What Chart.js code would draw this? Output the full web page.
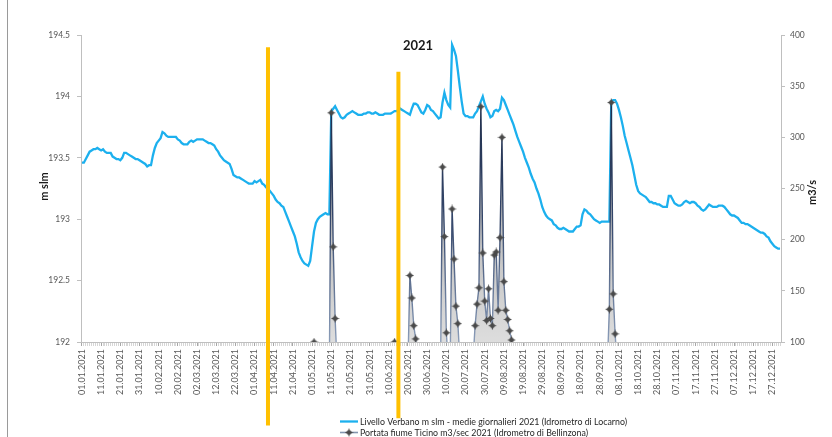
<!DOCTYPE html>
<html>
<head>
<meta charset="utf-8">
<script src="https://cdn.jsdelivr.net/npm/chart.js@4.4.0/dist/chart.umd.min.js"></script>
<style>
  html, body { margin: 0; padding: 0; background: #ffffff; }
  #wrap { width: 832px; height: 437px; position: relative; }
  canvas { display: block; }
</style>
</head>
<body>
<div id="wrap"><canvas id="grafico" width="832" height="437"></canvas></div>
<script>
// ---- Calendario 2021 (categorie giornaliere) ----
const giorniMese = [31, 28, 31, 30, 31, 30, 31, 31, 30, 31, 30, 31];
const pad2 = n => (n < 10 ? '0' : '') + n;
const dateGiorni = [];
giorniMese.forEach((n, m) => {
  for (let g = 1; g <= n; g++) dateGiorni.push(pad2(g) + '.' + pad2(m + 1) + '.2021');
});

// ---- Livello Verbano, medie giornaliere (m slm) ----
const livelloGen = [193.46,193.46,193.49,193.52,193.55,193.56,193.57,193.57,193.58,193.57,
  193.56,193.57,193.55,193.54,193.54,193.54,193.51,193.50,193.49,193.49,
  193.48,193.50,193.54,193.54,193.53,193.52,193.51,193.50,193.49,193.49,193.48];
const livelloFeb = [193.47,193.46,193.45,193.43,193.44,193.44,193.52,193.58,193.62,193.64,
  193.66,193.71,193.70,193.68,193.67,193.67,193.67,193.67,193.67,193.65,
  193.64,193.62,193.61,193.61,193.61,193.63,193.64,193.63];
const livelloMar = [193.64,193.65,193.65,193.65,193.65,193.64,193.63,193.62,193.62,193.61,
  193.60,193.57,193.55,193.52,193.50,193.48,193.47,193.46,193.45,193.41,
  193.36,193.35,193.34,193.34,193.33,193.32,193.31,193.30,193.29,193.29,193.29];
const livelloApr = [193.31,193.30,193.31,193.32,193.29,193.28,193.26,193.25,193.23,193.21,
  193.19,193.16,193.14,193.13,193.11,193.10,193.06,193.02,192.98,192.94,
  192.90,192.86,192.80,192.73,192.69,192.66,192.64,192.63,192.62,192.66];
const livelloMag = [192.78,192.90,192.97,193.00,193.02,193.03,193.04,193.05,193.04,193.04,
  193.88,193.90,193.92,193.89,193.86,193.83,193.82,193.83,193.85,193.86,
  193.87,193.88,193.87,193.86,193.85,193.85,193.85,193.86,193.86,193.87,193.87];
const livelloGiu = [193.86,193.86,193.87,193.86,193.85,193.85,193.85,193.86,193.86,193.86,
  193.86,193.87,193.88,193.88,193.89,193.90,193.89,193.88,193.87,193.86,
  193.85,193.90,193.94,193.94,193.93,193.90,193.87,193.86,193.89,193.93];
const livelloLug = [193.92,193.89,193.88,193.86,193.84,193.82,193.83,193.95,194.03,193.97,
  193.93,193.91,194.42,194.38,194.33,194.21,194.08,193.96,193.86,193.84,
  193.84,193.83,193.83,193.83,193.86,193.88,193.92,193.96,194.00,193.94,193.90];
const livelloAgo = [193.87,193.83,193.84,193.88,193.89,193.88,193.90,193.99,193.97,193.93,
  193.89,193.85,193.81,193.77,193.72,193.67,193.63,193.59,193.55,193.50,
  193.46,193.42,193.37,193.33,193.30,193.25,193.21,193.16,193.10,193.06,193.03];
const livelloSet = [193.01,193.00,192.99,192.96,192.95,192.93,192.92,192.92,192.93,192.92,
  192.91,192.90,192.90,192.90,192.92,192.94,192.94,192.95,193.04,193.08,
  193.07,193.05,193.04,193.02,193.00,192.99,192.98,192.97,192.98,192.98];
const livelloOtt = [192.98,192.98,192.98,193.96,193.97,193.97,193.94,193.89,193.83,193.76,
  193.68,193.62,193.56,193.50,193.44,193.36,193.28,193.23,193.21,193.20,
  193.19,193.18,193.16,193.14,193.14,193.13,193.13,193.12,193.12,193.11,193.10];
const livelloNov = [193.10,193.10,193.19,193.19,193.16,193.13,193.12,193.11,193.11,193.12,
  193.14,193.15,193.14,193.13,193.14,193.14,193.13,193.11,193.10,193.08,
  193.07,193.08,193.10,193.12,193.11,193.10,193.10,193.10,193.11,193.11];
const livelloDic = [193.11,193.10,193.08,193.06,193.04,193.03,193.03,193.02,193.01,192.99,
  192.97,192.97,192.96,192.96,192.95,192.94,192.93,192.92,192.91,192.90,
  192.89,192.89,192.88,192.86,192.85,192.82,192.80,192.78,192.77,192.76,192.76];
const livelloVerbano = [].concat(livelloGen, livelloFeb, livelloMar, livelloApr, livelloMag, livelloGiu,
  livelloLug, livelloAgo, livelloSet, livelloOtt, livelloNov, livelloDic);

// ---- Portata fiume Ticino a Bellinzona (m3/s), giorni con dato ----
const portataDate = ['02.05.2021',
  '10.05.2021','11.05.2021','12.05.2021','13.05.2021','14.05.2021',
  '13.06.2021',
  '20.06.2021','21.06.2021','22.06.2021','23.06.2021','24.06.2021','25.06.2021',
  '07.07.2021','08.07.2021','09.07.2021','10.07.2021','11.07.2021',
  '12.07.2021','13.07.2021','14.07.2021','15.07.2021','16.07.2021','17.07.2021',
  '24.07.2021','25.07.2021','26.07.2021','27.07.2021','28.07.2021','29.07.2021','30.07.2021','31.07.2021',
  '01.08.2021','02.08.2021','03.08.2021','04.08.2021','05.08.2021','06.08.2021','07.08.2021',
  '08.08.2021','09.08.2021','10.08.2021','11.08.2021','12.08.2021','13.08.2021',
  '02.10.2021','03.10.2021','04.10.2021','05.10.2021','06.10.2021','07.10.2021'];
const portataValori = [100,
  75, 324, 193, 123, 80,
  100,
  80, 165, 143, 116, 103, 85,
  80, 271, 203, 109, 80,
  80, 230, 181, 135, 118, 85,
  85, 116, 137, 153, 330, 187, 140, 121,
  152, 123, 116, 185, 188, 131, 202,
  300, 159, 131, 122, 111, 102,
  80, 132, 334, 147, 108, 80];
const portataTicino = dateGiorni.map(() => null);
portataDate.forEach((d, i) => { portataTicino[dateGiorni.indexOf(d)] = portataValori[i]; });

// ---- Testi ----
const titolo = '2021';
const titoloAsseSx = 'm slm';
const titoloAsseDx = 'm3/s';
const nomeLivello = 'Livello Verbano m slm - medie giornalieri 2021 (Idrometro di Locarno)';
const nomePortata = 'Portata fiume Ticino m3/sec 2021 (Idrometro di Bellinzona)';

// Linee verticali di riferimento (giorno, estremi in m slm)
const lineeRiferimento = [
  { giorno: '08.04.2021', da: 194.40, a: 191.32 },
  { giorno: '15.06.2021', da: 194.20, a: 191.38 }
];

const FONT = 'Lato, "Liberation Sans", Arial, sans-serif';
const BLU = '#1cb0ee';
const ARANCIO = '#ffc000';

// Marcatore a stella per la portata
function creaMarcatore() {
  const c = document.createElement('canvas');
  c.width = 9; c.height = 9;
  const g = c.getContext('2d');
  g.fillStyle = '#4a4a4a';
  g.beginPath();
  for (let i = 0; i < 8; i++) {
    const a = i * Math.PI / 4 - Math.PI / 2;
    const r = i % 2 === 0 ? 4.4 : 1.7;
    g.lineTo(4.5 + r * Math.cos(a), 4.5 + r * Math.sin(a));
  }
  g.closePath();
  g.fill();
  g.beginPath();
  g.arc(4.5, 4.5, 2.3, 0, Math.PI * 2);
  g.fill();
  return c;
}
const marcatore = creaMarcatore();

function gradienteVerticale(chart, stops) {
  const area = chart.chartArea;
  if (!area) return stops[0][1];
  const gr = chart.ctx.createLinearGradient(0, area.top, 0, area.bottom);
  stops.forEach(s => gr.addColorStop(s[0], s[1]));
  return gr;
}

const decorazioni = {
  id: 'decorazioni',
  afterDatasetsDraw(chart) {
    const { ctx, scales } = chart;
    ctx.save();
    ctx.strokeStyle = ARANCIO;
    ctx.lineWidth = 4;
    ctx.lineCap = 'butt';
    lineeRiferimento.forEach(l => {
      const x = scales.x.getPixelForValue(dateGiorni.indexOf(l.giorno));
      ctx.beginPath();
      ctx.moveTo(x, scales.y.getPixelForValue(l.da));
      ctx.lineTo(x, scales.y.getPixelForValue(l.a));
      ctx.stroke();
    });
    ctx.restore();
  },
  afterDraw(chart) {
    const { ctx, chartArea, width, height } = chart;
    ctx.save();
    // bordo sinistro dell'area grafico
    ctx.strokeStyle = '#9a9a9a';
    ctx.lineWidth = 1;
    ctx.beginPath();
    ctx.moveTo(7.5, 0);
    ctx.lineTo(7.5, height);
    ctx.stroke();

    // titolo
    ctx.fillStyle = '#1a1a1a';
    ctx.font = 'bold 13px ' + FONT;
    ctx.textAlign = 'center';
    ctx.textBaseline = 'middle';
    ctx.fillText(titolo, width / 2 + 2, chartArea.top + 11);

    // titoli degli assi
    const midY = (chartArea.top + chartArea.bottom) / 2;
    ctx.font = 'bold 11px ' + FONT;
    [[chartArea.left - 37, midY - 2, titoloAsseSx], [chartArea.right + 31, midY + 4, titoloAsseDx]].forEach(t => {
      ctx.save();
      ctx.translate(t[0], t[1]);
      ctx.rotate(-Math.PI / 2);
      ctx.fillText(t[2], 0, 0);
      ctx.restore();
    });

    // legenda
    const lx = chartArea.left + 259;
    const r1 = chartArea.bottom + 79.5;
    const r2 = chartArea.bottom + 90.5;
    ctx.lineCap = 'butt';
    ctx.strokeStyle = BLU;
    ctx.lineWidth = 2.3;
    ctx.beginPath(); ctx.moveTo(lx, r1); ctx.lineTo(lx + 18, r1); ctx.stroke();
    ctx.strokeStyle = '#8497b0';
    ctx.lineWidth = 1.6;
    ctx.beginPath(); ctx.moveTo(lx, r2); ctx.lineTo(lx + 18, r2); ctx.stroke();
    ctx.drawImage(marcatore, lx + 9 - 4.5, r2 - 4.5);
    ctx.fillStyle = '#262626';
    ctx.font = '9.5px ' + FONT;
    ctx.textAlign = 'left';
    ctx.textBaseline = 'middle';
    ctx.fillText(nomeLivello, lx + 20, r1, 267);
    ctx.fillText(nomePortata, lx + 20, r2, 228);
    ctx.restore();
  }
};

const grafico = new Chart(document.getElementById('grafico'), {
  type: 'line',
  data: {
    labels: dateGiorni,
    datasets: [
      {
        label: nomePortata,
        data: portataTicino,
        yAxisID: 'y1',
        borderWidth: 1.4,
        borderColor: c => gradienteVerticale(c.chart, [[0, '#16223c'], [0.6, '#34466a'], [1, '#8a9cb8']]),
        backgroundColor: c => gradienteVerticale(c.chart, [[0, 'rgba(120,120,120,0.85)'], [1, 'rgba(215,215,215,0.85)']]),
        fill: 'start',
        pointStyle: marcatore,
        pointRadius: 3,
        spanGaps: false,
        tension: 0
      },
      {
        label: nomeLivello,
        data: livelloVerbano,
        yAxisID: 'y',
        borderColor: BLU,
        borderWidth: 2.3,
        pointRadius: 0,
        fill: false,
        tension: 0
      }
    ]
  },
  options: {
    responsive: false,
    animation: false,
    events: [],
    devicePixelRatio: 1,
    layout: { padding: { left: 0, right: 0, top: 35, bottom: 35 } },
    plugins: { legend: { display: false }, title: { display: false }, tooltip: { enabled: false } },
    scales: {
      x: {
        type: 'category',
        offset: true,
        grid: {
          drawOnChartArea: false,
          offset: false,
          tickLength: 4,
          color: c => (c.index % 10 === 0 ? '#a6a6a6' : '#d6d6d6')
        },
        border: { color: '#bfbfbf' },
        ticks: {
          autoSkip: false,
          minRotation: 90,
          maxRotation: 90,
          padding: 3,
          color: '#595959',
          font: { family: FONT, size: 9 },
          callback: (v, i) => (i % 10 === 0 ? dateGiorni[i] : '')
        },
        afterFit: s => { s.height = 60; }
      },
      y: {
        position: 'left',
        min: 192,
        max: 194.5,
        grid: { drawOnChartArea: false, tickLength: 4, color: '#bfbfbf' },
        border: { color: '#bfbfbf' },
        ticks: {
          stepSize: 0.5,
          padding: 7,
          color: '#595959',
          font: { family: FONT, size: 8.5 },
          callback: v => String(v)
        },
        afterFit: s => { s.width = 81; }
      },
      y1: {
        position: 'right',
        min: 100,
        max: 400,
        grid: { drawOnChartArea: false, tickLength: 4, color: '#bfbfbf' },
        border: { color: '#bfbfbf' },
        ticks: {
          stepSize: 50,
          padding: 5,
          color: '#595959',
          font: { family: FONT, size: 8.5 },
          callback: v => String(v)
        },
        afterFit: s => { s.width = 51; }
      }
    }
  },
  plugins: [decorazioni]
});
</script>
</body>
</html>
